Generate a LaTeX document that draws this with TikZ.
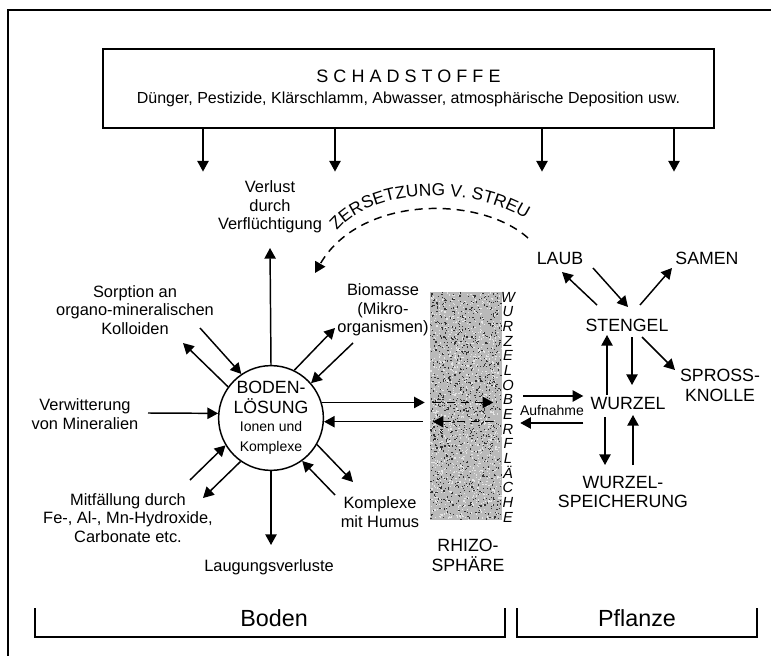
\documentclass[tikz,border=0pt]{standalone}
\usepackage{fontspec}
\setmainfont{Liberation Sans}
\usetikzlibrary{arrows.meta, calc, decorations.text, shapes.geometric}

\begin{document}
\begin{tikzpicture}[
    x=0.75pt, y=-0.75pt,
    lbl/.style={font=\fontsize{12.3}{13.9}\selectfont, align=center, inner sep=0pt},
    caplbl/.style={font=\fontsize{13.3}{15}\selectfont, align=center, inner sep=0pt},
    grplbl/.style={font=\fontsize{17.5}{19}\selectfont, inner sep=0pt},
    arr/.style={-{Triangle[length=8pt,width=8.5pt]}, line width=1.1pt},
    darr/.style={arr, dash pattern=on 6pt off 4.5pt},
    bracket/.style={line width=1.1pt},
]
\useasboundingbox (0,0) rectangle (771,656);
\draw[line width=1.8pt] (8,656) -- (8,10) -- (771,10);

% Schadstoffe
\node[draw, line width=1.1pt, minimum width=458.5pt, minimum height=59pt, align=center, inner sep=0pt] (schad) at (408.5,88.5)
  {{\fontsize{13.5}{15}\selectfont\addfontfeature{LetterSpace=28}SCHADSTOFFE}\\[4pt]
   {\fontsize{12}{13}\selectfont Dünger, Pestizide, Klärschlamm, Abwasser, atmosphärische Deposition usw.}};
\foreach \dx in {-205.5,-73.5,133.5,265.5}
  \draw[arr] ($(schad.south)+(\dx,0)$) -- ++(0,43);

% Boden
\node[circle, draw, line width=1.1pt, minimum size=78pt, inner sep=0pt, align=center,
      font=\fontsize{13.3}{15}\selectfont] (boden) at (271,418)
  {BODEN-\\LÖSUNG\\[-1.5pt]{\fontsize{10.5}{12.8}\selectfont Ionen und}\\{\fontsize{10.5}{12.8}\selectfont Komplexe}};
\node[lbl] (verlust) at (270,207) {Verlust\\durch\\Verflüchtigung};
\node[lbl] (sorp) at (135,310) {Sorption an\\organo-mineralischen\\Kolloiden};
\node[lbl] (verw) at (85,414) {Verwitterung\\von Mineralien};
\node[lbl] (mitf) at (128,518) {Mitfällung durch\\Fe-, Al-, Mn-Hydroxide,\\Carbonate etc.};
\node[lbl] (laug) at (269,567) {Laugungsverluste};
\node[lbl] (komp) at (380,512) {Komplexe\\mit Humus};
\node[lbl] (biom) at (383,310) {Biomasse\\(Mikro-\\organismen)};

\draw[arr] (boden.north) -- ($(verlust)+(0,41)$);
\draw[arr] ($(sorp)+(65,18)$) -- (boden.124);
\draw[arr] (boden.144) -- ($(sorp)+(48,33)$);
\draw[arr] ($(verw)+(63,-1)$) -- (boden.175);
\draw[arr] ($(mitf)+(62,-38)$) -- (boden.211);
\draw[arr] (boden.235) -- ($(mitf)+(75,-20)$);
\draw[arr] (boden.south) -- ($(laug)+(2,-22)$);
\draw[arr] (boden.330) -- ($(komp)+(-27,-30)$);
\draw[arr] ($(komp)+(-45,-17)$) -- (boden.306);
\draw[arr] (boden.64) -- ($(biom)+(-48,18)$);
\draw[arr] ($(biom)+(-30,33)$) -- (boden.41);

% Rhizosphaere
\node[rectangle, fill=gray!55, minimum width=54pt, minimum height=171pt, inner sep=0pt] (band) at (466,406) {};
\pgfmathsetseed{11}
\foreach \i in {1,...,1100}
  \fill[black!80] ({430+71*rnd},{292+227*rnd}) rectangle ++(1.2,1.2);
\foreach \i in {1,...,1100}
  \fill[gray!20] ({430+71*rnd},{292+227*rnd}) rectangle ++(1.2,1.2);
\node[inner sep=0pt, align=center, font=\fontsize{11}{11}\selectfont\itshape] (wob) at (508,407)
  {W\\U\\R\\Z\\E\\L\\O\\B\\E\\R\\F\\L\\Ä\\C\\H\\E};
\node[caplbl] (rhizo) at (468,555) {RHIZO-\\SPHÄRE};

\draw[arr, shorten >=3.75pt] (boden.17) -- (boden.17 -| band.west);
\draw[arr] ($(boden.356 -| band.west)+(-7,0)$) -- (boden.356);
\draw[darr] ($(boden.17 -| band.west)+(3,0)$) -- ($(boden.17 -| band.east)+(-9,0)$);
\draw[darr] ($(boden.356 -| band.east)+(-9,0)$) -- ($(boden.356 -| band.west)+(3,0)$);

% Pflanze
\node[caplbl] (wurzel) at (628,403) {WURZEL};
\node[caplbl] (stengel) at (627,325) {STENGEL};
\node[caplbl] (laub) at (560,258) {LAUB};
\node[caplbl] (samen) at (707,258) {SAMEN};
\node[caplbl] (spross) at (720,385) {SPROSS-\\KNOLLE};
\node[caplbl, font=\fontsize{13.3}{14.3}\selectfont] (speich) at (623,492) {WURZEL-\\SPEICHERUNG};
\node[inner sep=0pt, font=\fontsize{10.5}{12}\selectfont] (aufn) at (552,410) {Aufnahme};

\draw[arr] ($(band.east)+(21,-10)$) -- ($(wurzel.west)+(-7,-7)$);
\draw[arr] ($(wurzel.west)+(-7,20)$) -- ($(band.east)+(18,17)$);
\draw[arr] ($(stengel)+(-30,-20)$) -- ($(laub)+(2,14)$);
\draw[arr] ($(laub)+(33,10)$) -- ($(stengel)+(1,-18)$);
\draw[arr] ($(stengel)+(13,-20)$) -- ($(samen)+(-35,10)$);
\draw[arr] ($(stengel)+(15,12)$) -- ($(spross)+(-45,-15)$);
\draw[arr] ($(wurzel)+(-21,-8)$) -- ($(stengel)+(-20,10)$);
\draw[arr] ($(stengel)+(5,12)$) -- ($(wurzel)+(4,-18)$);
\draw[arr] ($(wurzel)+(-23,14)$) -- ($(speich)+(-18,-27)$);
\draw[arr] ($(speich)+(10,-27)$) -- ($(wurzel)+(5,12)$);

% Zersetzung
\draw[darr] ($(laub)+(-32,-20)$) .. controls (480,195) and (360,195) .. ($(boden)+(44,-145)$);
\path[decorate, decoration={text along path, text align=left,
    text={|\fontsize{13}{13}\selectfont|ZERSETZUNG V. STREU}}]
  (337,231) .. controls (375,184) and (490,184) .. (540,230);

% Gruppen
\node[grplbl] (bodengrp) at (274,618) {Boden};
\node[grplbl] (pflgrp) at (637,618) {Pflanze};
\draw[bracket] (35,608) -- (35,637) -- (505,637) -- (505,608);
\draw[bracket] (517,608) -- (517,637) -- (757,637) -- (757,608);
\end{tikzpicture}
\end{document}
